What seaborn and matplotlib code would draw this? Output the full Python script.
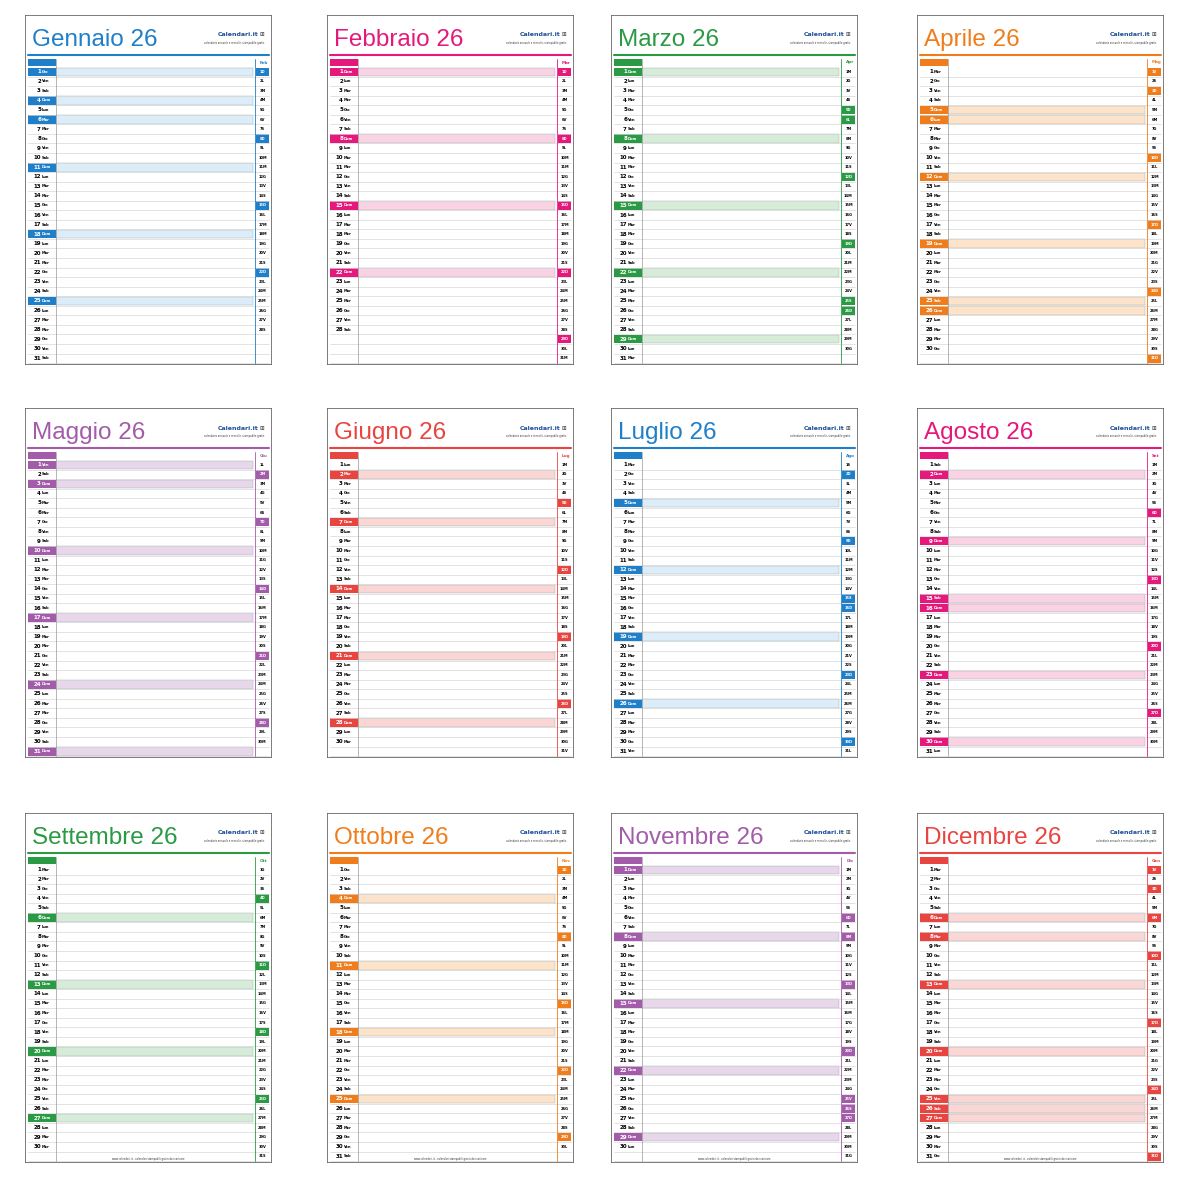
import calendar
import matplotlib
matplotlib.use("Agg")
import matplotlib.pyplot as plt
import seaborn as sns
from matplotlib.patches import Rectangle

sns.set_theme(style="white")
plt.rcParams['font.family'] = ['DejaVu Sans']

YEAR = 2026
months = ["Gennaio", "Febbraio", "Marzo", "Aprile", "Maggio", "Giugno",
          "Luglio", "Agosto", "Settembre", "Ottobre", "Novembre", "Dicembre"]
next_abbr = ["Feb", "Mar", "Apr", "Mag", "Giu", "Lug", "Ago", "Set", "Ott", "Nov", "Dic", "Gen"]
colors = ["#1f7fc9", "#e5197b", "#2a9a44", "#f07d1c", "#a35ca9", "#e94540",
          "#1f7fc9", "#e5197b", "#2a9a44", "#f07d1c", "#a35ca9", "#e94540"]
lights = ["#dcedf9", "#f9d2e3", "#d6ecd9", "#fde3c9", "#e8d6ea", "#fad6d4",
          "#dcedf9", "#f9d2e3", "#d6ecd9", "#fde3c9", "#e8d6ea", "#fad6d4"]
weekdays = ["Lun", "Mar", "Mer", "Gio", "Ven", "Sab", "Dom"]
wd_short = ["L", "M", "M", "G", "V", "S", "D"]
holidays = {(1, 1), (1, 6), (4, 5), (4, 6), (4, 25), (5, 1), (6, 2), (8, 15),
            (11, 1), (12, 8), (12, 25), (12, 26)}
page_x = [25, 327, 611, 917]
page_y = [15, 408, 813]
PW, PH = 247, 350
FIG = 1191

fig = plt.figure(figsize=(FIG / 100, FIG / 100), dpi=100)
fig.patch.set_facecolor("white")

def is_hol(m, d):
    return calendar.weekday(YEAR, m, d) == 6 or (m, d) in holidays

for k in range(12):
    m = k + 1
    px, py = page_x[k % 4], page_y[k // 4]
    ax = fig.add_axes([px / FIG, 1 - (py + PH) / FIG, PW / FIG, PH / FIG])
    ax.set_xlim(0, PW)
    ax.set_ylim(PH, 0)
    ax.axis("off")
    c, lc = colors[k], lights[k]
    ax.add_patch(Rectangle((0, 0), PW, PH, fill=False, ec="#666666", lw=1.2))
    ax.text(7, 25, f"{months[k]} 26", color=c, fontsize=17.5, va="center", ha="left",
            family="Liberation Sans")
    ax.text(PW - 14, 20, "Calendari.it", color="#1f4f9c", fontsize=4.5,
            ha="right", va="center", fontweight="bold")
    ax.text(PW - 8, 20, "⊞", color="#333", fontsize=4, ha="right", va="center")
    ax.text(PW - 8, 28, "calendario annuale e mensile, stampabile gratis", color="#333",
            fontsize=1.8, ha="right", va="center")
    ax.plot([3, PW - 3], [40, 40], color=c, lw=1.5)
    top, rh = 44, 9.55
    ax.add_patch(Rectangle((3, top), 28, 7, color=c, lw=0))
    ax.text(PW - 8, top + 3.5, next_abbr[k], color=c, fontsize=3, ha="center",
            va="center", fontweight="bold")
    nd = calendar.monthrange(YEAR, m)[1]
    nm = m % 12 + 1
    ny = YEAR + (1 if m == 12 else 0)
    nnd = calendar.monthrange(ny, nm)[1]
    for i in range(31):
        y0 = top + 8 + i * rh
        ax.plot([3, PW - 3], [y0 + rh, y0 + rh], color="#d8d8d8", lw=0.5)
        if i < nd:
            d = i + 1
            wd = calendar.weekday(YEAR, m, d)
            if is_hol(m, d):
                ax.barh(y0 + rh / 2, 197, left=31, height=rh - 1, color=lc, ec="#9aa", lw=0.3)
                ax.add_patch(Rectangle((3, y0 + 0.5), 28, rh - 1, color=c, lw=0))
                tc = "white"
            else:
                tc = "black"
            ax.text(16, y0 + rh / 2, str(d), color=tc, fontsize=4, ha="right",
                    va="center", fontweight="bold")
            ax.text(17, y0 + rh / 2, weekdays[wd], color=tc, fontsize=2.6, ha="left",
                    va="center", fontweight="bold")
        if i < nnd:
            d = i + 1
            wd = calendar.weekday(ny, nm, d)
            hol = wd == 6 or (nm, d) in holidays
            if hol:
                ax.add_patch(Rectangle((231, y0 + 0.5), 13, rh - 1, color=c, lw=0))
            ax.text(237.5, y0 + rh / 2, f"{d}{wd_short[wd]}", color="white" if hol else "black",
                    fontsize=2.6, ha="center", va="center", fontweight="bold")
    bottom = top + 8 + 31 * rh
    ax.plot([31, 31], [top, bottom], color="#999", lw=0.5)
    ax.plot([230, 230], [top, bottom], color=c, lw=0.6)
    if k >= 8:
        ax.text(PW / 2, PH - 4, "www.calendari.it - calendari stampabili gratis da scaricare",
                fontsize=1.8, ha="center", va="center", color="#333")

fig.savefig("out.png", dpi=100, facecolor="white")
